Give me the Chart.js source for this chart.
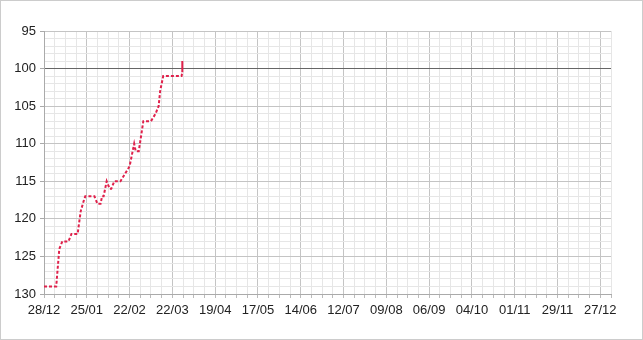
<!DOCTYPE html>
<html lang="en">
<head>
    <meta charset="UTF-8">
    <script src="https://cdn.jsdelivr.net/npm/chart.js"></script>
    <title>Rank</title>
    <style>
        html, body { margin: 0; padding: 0; background: #fff; }
        .box { width: 643px; height: 340px; box-sizing: border-box; border: 1px solid #ccc; position: relative; }
        canvas { position: absolute; left: 0; top: 0; }
    </style>
</head>
<body>
    <div class="box"><canvas id="rankChart" width="643" height="340"></canvas></div>
    <script>
        // days counted from 28/12
        const days = [0, 8, 10, 12, 16, 18, 22, 24, 26, 27, 33, 35, 37, 38, 39, 41, 43, 44, 46, 50, 53, 56, 57, 59, 60, 62, 65, 70, 73, 75, 76, 78, 90, 90.5, 90.5, 90.5, 90.5, 90.5];
        const values = [129, 129, 124, 123, 123, 122, 122, 119, 117.6, 117, 117, 118, 118, 117, 117, 115, 116, 116, 115, 115, 114, 113, 112, 110, 111, 111, 107, 107, 106, 105, 103, 101, 101, 100.5, 99, 100.5, 99, 100.5];
        const dateLabels = ['28/12', '25/01', '22/02', '22/03', '19/04', '17/05', '14/06', '12/07', '09/08', '06/09', '04/10', '01/11', '29/11', '27/12'];

        const points = days.map((d, i) => ({ x: d, y: values[i] }));

        new Chart(document.getElementById('rankChart'), {
            type: 'line',
            data: {
                datasets: [{
                    data: points,
                    borderColor: '#e0214b',
                    borderWidth: 2,
                    borderDash: [3, 2],
                    pointRadius: 0,
                    tension: 0,
                    fill: false
                }]
            },
            options: {
                responsive: false,
                animation: false,
                layout: { padding: { top: 30, right: 33, left: 0, bottom: 0 } },
                plugins: { legend: { display: false }, tooltip: { enabled: false } },
                scales: {
                    x: {
                        type: 'linear',
                        min: 0,
                        max: 371,
                        afterFit: s => { s.height = 47; },
                        ticks: {
                            stepSize: 7,
                            autoSkip: false,
                            maxRotation: 0,
                            color: '#222',
                            font: { family: 'Liberation Sans', size: 13 },
                            padding: 5,
                            callback: v => (v % 28 === 0 && dateLabels[v / 28]) ? dateLabels[v / 28] : ''
                        },
                        grid: {
                            color: c => (c.tick && c.tick.value % 28 === 0) ? '#c4c4c4' : '#e6e6e6',
                            tickColor: '#bbb',
                            tickLength: 4
                        },
                        border: { color: '#aaa' }
                    },
                    y: {
                        min: 95,
                        max: 130,
                        reverse: true,
                        afterFit: s => { s.width = 43; },
                        ticks: {
                            stepSize: 1,
                            autoSkip: false,
                            color: '#222',
                            font: { family: 'Liberation Sans', size: 13 },
                            padding: 4,
                            callback: v => v % 5 === 0 ? v : ''
                        },
                        grid: {
                            color: c => {
                                const v = c.tick ? c.tick.value : 0;
                                if (v === 100) return '#666';
                                return v % 5 === 0 ? '#c4c4c4' : '#e6e6e6';
                            },
                            tickColor: c => (c.tick && c.tick.value % 5 === 0) ? '#aaa' : 'rgba(0,0,0,0)',
                            tickLength: 4
                        },
                        border: { color: '#aaa' }
                    }
                }
            }
        });
    </script>
</body>
</html>
